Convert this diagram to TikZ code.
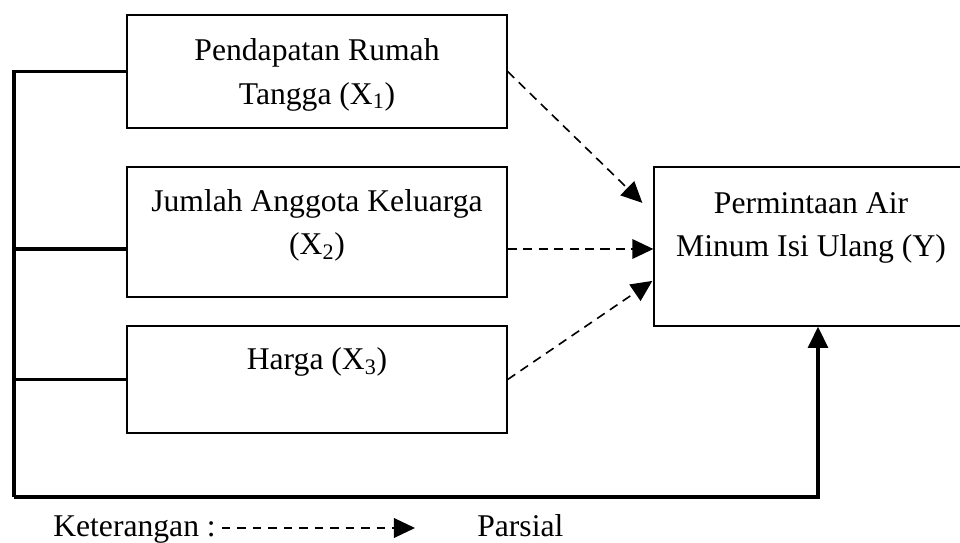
\documentclass[tikz,border=0pt]{standalone}
\usepackage{fontspec}
\setmainfont{Liberation Serif}
\usetikzlibrary{arrows.meta}
\tikzset{
	box/.style={draw,line width=0.95pt,rectangle,inner sep=0pt},
	txt/.style={align=center,font=\fontsize{22.5}{31}\selectfont},
	link/.style={line width=2.2pt},
	partial/.style={line width=1.15pt,dash pattern=on 6.5pt off 4.5pt,-{Triangle[length=15pt,width=14pt]}},
}

\begin{document}
\begin{tikzpicture}
	\clip (0,0) rectangle (24,13.575);
	\node[box,minimum width=9.5cm,minimum height=2.825cm] (x1) at (7.925,11.7875) {};
	\node[box,minimum width=9.5cm,minimum height=3.25cm] (x2) at (7.925,7.775) {};
	\node[box,minimum width=9.5cm,minimum height=2.675cm] (x3) at (7.925,4.0875) {};
	\node[box,minimum width=7.85cm,minimum height=3.975cm] (y) at (20.275,7.4125) {};
	\node[txt] (t1) at (7.925,11.7) {Pendapatan Rumah\\Tangga (X\textsubscript{1})};
	\node[txt] (t2) at (7.925,7.9375) {Jumlah Anggota Keluarga\\(X\textsubscript{2})};
	\node[txt] (t3) at (7.925,4.525) {Harga (X\textsubscript{3})};
	\node[txt] (ty) at (20.275,7.875) {Permintaan Air\\Minum Isi Ulang (Y)};
	\coordinate (bl) at (0.35,1.15);
	\coordinate (p2) at ([yshift=-0.425cm]x2.west);
	\coordinate (q2) at ([yshift=-0.425cm]x2.east);
	\draw[link] (x1.west) -| (bl);
	\draw[link] (p2) -- (bl |- p2);
	\draw[link] (x3.west) -- (bl |- x3.west);
	\draw[link,-{Triangle[length=15pt,width=14pt]}] (bl) -| ([xshift=0.175cm]y.south);
	\draw[partial] (x1.east) -- ([shift={(-0.275,1.09)}]y.west);
	\draw[partial] (q2) -- (q2 -| y.west);
	\draw[partial] (x3.east) -- ([shift={(-0.025,-0.86)}]y.west);
	\node[txt,inner sep=0pt,anchor=base west] (ket) at (1.325,0.15) {Keterangan :};
	\node[txt,inner sep=0pt,anchor=base west] (par) at (11.925,0.15) {Parsial};
	\coordinate (la) at (5.55,0.375);
	\coordinate (lb) at (10.375,0.375);
	\draw[partial,dash pattern=on 6pt off 5pt] (la) -- (lb);
\end{tikzpicture}
\end{document}
